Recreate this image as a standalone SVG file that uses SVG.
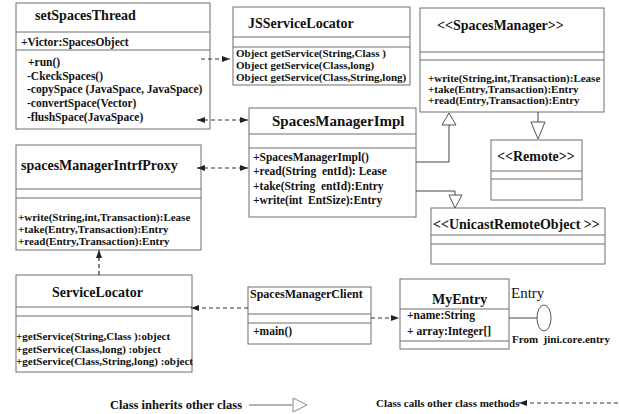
<svg xmlns="http://www.w3.org/2000/svg" width="619" height="414" viewBox="0 0 619 414">
<style>
.box{fill:#fff;stroke:#6e6e6e;stroke-width:1}
.sep{stroke:#6e6e6e;stroke-width:1}
text{font-family:"Liberation Serif","Times New Roman",serif;font-weight:bold;fill:#111;white-space:pre}
.t{font-size:14px}
.m{font-size:11.5px}
.s{font-size:11px}
.dash{fill:none;stroke:#333;stroke-width:1.2;stroke-dasharray:4,3}
.inh{fill:none;stroke:#444;stroke-width:1}
.tri{fill:#fff;stroke:#555;stroke-width:1}
</style>
<defs>
<marker id="arr" viewBox="0 0 8 6" refX="8" refY="3" markerWidth="8" markerHeight="6" markerUnits="userSpaceOnUse" orient="auto-start-reverse">
<path d="M0,0 L8,3 L0,6 z" fill="#222"/>
</marker>
</defs>
<rect width="619" height="414" fill="#fff"/>

<g id="setSpacesThread">
<rect class="box" x="16" y="3" width="194" height="126"/>
<line class="sep" x1="16" y1="32" x2="210" y2="32"/>
<line class="sep" x1="16" y1="50" x2="210" y2="50"/>
<text class="t" x="35" y="20" font-size="14.3">setSpacesThread</text>
<text class="m" x="21" y="46">+Victor:SpacesObject</text>
<text class="m" x="28" y="66">+run()</text>
<text class="m" x="27" y="80">-CkeckSpaces()</text>
<text class="m" x="27" y="93">-copySpace (JavaSpace, JavaSpace)</text>
<text class="m" x="27" y="107">-convertSpace(Vector)</text>
<text class="m" x="27" y="121">-flushSpace(JavaSpace)</text>
</g>

<g id="JSServiceLocator">
<rect class="box" x="233" y="7" width="177" height="78"/>
<line class="sep" x1="233" y1="37" x2="410" y2="37"/>
<line class="sep" x1="233" y1="47" x2="410" y2="47"/>
<text class="t" x="248" y="28">JSServiceLocator</text>
<text class="s" x="236" y="57">Object getService(String,Class )</text>
<text class="s" x="236" y="69">Object getService(Class,long)</text>
<text class="s" x="236" y="81">Object getService(Class,String,long)</text>
</g>

<g id="SpacesManager">
<rect class="box" x="420" y="8" width="184" height="104"/>
<line class="sep" x1="420" y1="52" x2="604" y2="52"/>
<line class="sep" x1="420" y1="60" x2="604" y2="60"/>
<text class="t" x="437" y="30">&lt;&lt;SpacesManager&gt;&gt;</text>
<text class="s" x="428" y="82">+write(String,int,Transaction):Lease</text>
<text class="s" x="428" y="93">+take(Entry,Transaction):Entry</text>
<text class="s" x="428" y="104">+read(Entry,Transaction):Entry</text>
</g>

<g id="SpacesManagerImpl">
<rect class="box" x="249" y="108" width="167" height="109"/>
<line class="sep" x1="249" y1="134" x2="416" y2="134"/>
<line class="sep" x1="249" y1="148" x2="416" y2="148"/>
<text x="272" y="126" font-size="15">SpacesManagerImpl</text>
<text class="m" x="253" y="161" font-size="12">+SpacesManagerImpl()</text>
<text class="m" x="253" y="175" font-size="12">+read(String  entId): Lease</text>
<text class="m" x="253" y="190" font-size="12">+take(String  entId):Entry</text>
<text class="m" x="253" y="204" font-size="12">+write(int  EntSize):Entry</text>
</g>

<g id="Remote">
<rect class="box" x="491" y="140" width="91" height="60"/>
<line class="sep" x1="491" y1="171" x2="582" y2="171"/>
<line class="sep" x1="491" y1="179" x2="582" y2="179"/>
<text class="t" x="497" y="161">&lt;&lt;Remote&gt;&gt;</text>
</g>

<g id="UnicastRemoteObject">
<rect class="box" x="431" y="208" width="174" height="56"/>
<line class="sep" x1="431" y1="235" x2="605" y2="235"/>
<line class="sep" x1="431" y1="244" x2="605" y2="244"/>
<text class="t" x="433" y="229">&lt;&lt;UnicastRemoteObject &gt;&gt;</text>
</g>

<g id="spacesManagerIntrfProxy">
<rect class="box" x="16" y="145" width="185" height="105"/>
<line class="sep" x1="16" y1="189" x2="201" y2="189"/>
<line class="sep" x1="16" y1="198" x2="201" y2="198"/>
<text class="t" x="21" y="170" font-size="14.5">spacesManagerIntrfProxy</text>
<text class="s" x="18" y="221">+write(String,int,Transaction):Lease</text>
<text class="s" x="18" y="233">+take(Entry,Transaction):Entry</text>
<text class="s" x="18" y="245">+read(Entry,Transaction):Entry</text>
</g>

<g id="ServiceLocator">
<rect class="box" x="16" y="275" width="176" height="97"/>
<line class="sep" x1="16" y1="307" x2="192" y2="307"/>
<line class="sep" x1="16" y1="316" x2="192" y2="316"/>
<text class="t" x="52" y="297" font-size="14.5">ServiceLocator</text>
<text class="s" x="16" y="340">+getService(String,Class ):object</text>
<text class="s" x="16" y="353">+getService(Class,long) :object</text>
<text class="s" x="16" y="365">+getService(Class,String,long) :object</text>
</g>

<g id="SpacesManagerClient">
<rect class="box" x="248" y="287" width="123" height="57"/>
<line class="sep" x1="248" y1="314" x2="371" y2="314"/>
<line class="sep" x1="248" y1="323" x2="371" y2="323"/>
<text x="250" y="298" font-size="12">SpacesManagerClient</text>
<text class="m" x="253" y="335">+main()</text>
</g>

<g id="MyEntry">
<rect class="box" x="400" y="279" width="109" height="70"/>
<line class="sep" x1="400" y1="309" x2="509" y2="309"/>
<line class="sep" x1="400" y1="341" x2="509" y2="341"/>
<text class="t" x="432" y="304">MyEntry</text>
<text class="m" x="407" y="319">+name:String</text>
<text class="m" x="407" y="335">+ array:Integer[]</text>
</g>

<g id="EntryInterface">
<line class="inh" x1="509" y1="318" x2="537" y2="318"/>
<ellipse cx="544" cy="318" rx="7" ry="13" class="tri"/>
<text x="511" y="298" font-size="15" style="font-weight:normal">Entry</text>
<text x="512" y="343" font-size="11">From  jini.core.entry</text>
</g>

<g id="connectors">
<line class="dash" x1="201" y1="59" x2="230" y2="59" marker-end="url(#arr)"/>
<line class="dash" x1="197" y1="120" x2="248" y2="120" marker-start="url(#arr)" marker-end="url(#arr)"/>
<line class="dash" x1="197" y1="168" x2="248" y2="168" marker-start="url(#arr)" marker-end="url(#arr)"/>
<line class="dash" x1="99" y1="275" x2="99" y2="250" marker-end="url(#arr)"/>
<line class="dash" x1="248" y1="308" x2="191" y2="308" marker-end="url(#arr)"/>
<line class="dash" x1="371" y1="318" x2="399" y2="318" marker-end="url(#arr)"/>
<polyline class="inh" points="416,162 449,162 449,125"/>
<polygon class="tri" points="449,113 442,125 456,125"/>
<line class="inh" x1="538" y1="112" x2="538" y2="122"/>
<polygon class="tri" points="531,122 545,122 538,139"/>
<polyline class="inh" points="416,191 455,191 455,195"/>
<polygon class="tri" points="449,195 462,195 455,208"/>
</g>

<g id="legend">
<text x="110" y="409" font-size="12.5">Class inherits other class</text>
<line x1="249" y1="405" x2="292" y2="405" stroke="#666" stroke-width="1"/>
<polygon class="tri" points="293,398 293,412 307,405" style="stroke:#888"/>
<text x="376" y="407" font-size="11">Class calls other class methods</text>
<line class="dash" x1="618" y1="403" x2="519" y2="403" marker-end="url(#arr)"/>
</g>
</svg>
